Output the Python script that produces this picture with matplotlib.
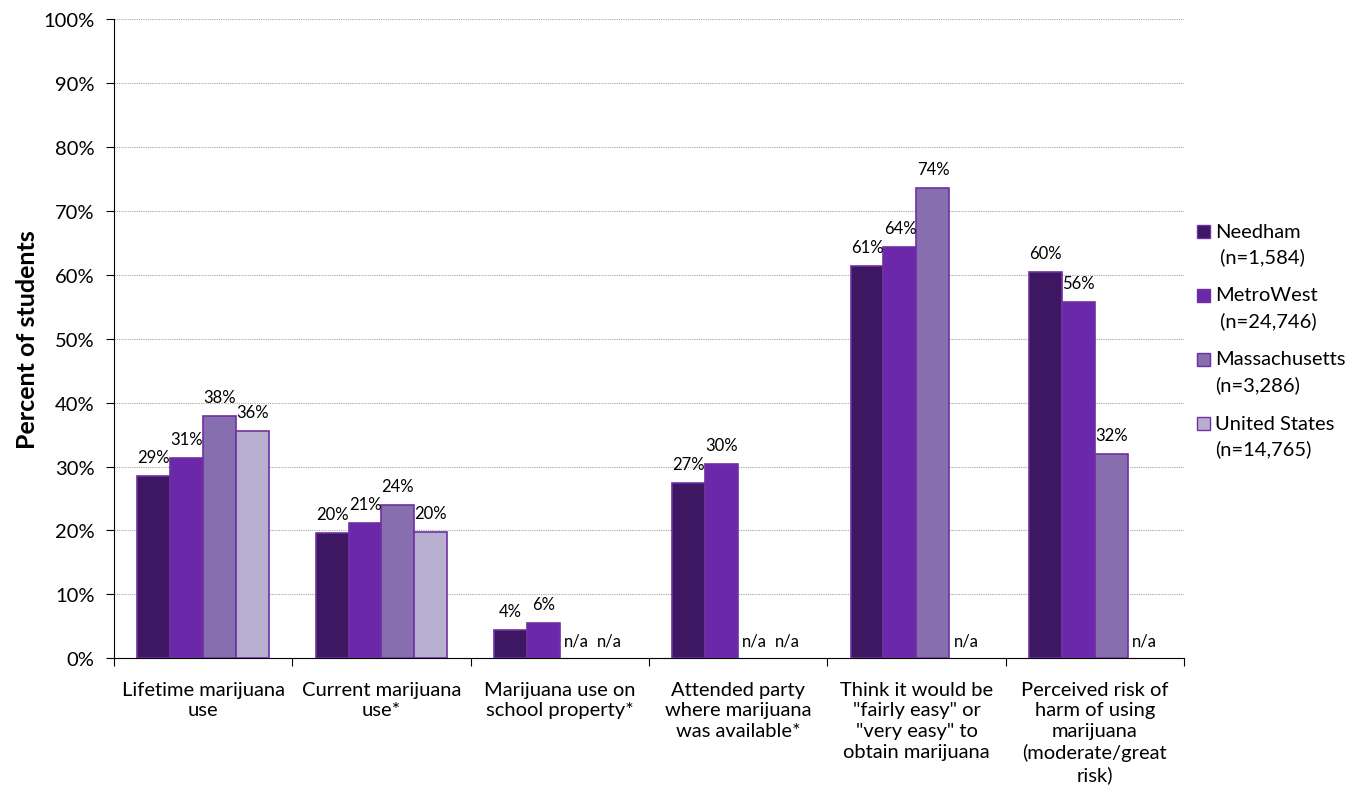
#!/usr/bin/env python3
"""
マリファナ関連指標のグループ棒グラフ
"""

import numpy as np
import matplotlib.pyplot as plt
from matplotlib.patches import Rectangle

plt.rcParams['font.family'] = ['Lato', 'DejaVu Sans']

# データ
categories = [
    'Lifetime marijuana\nuse',
    'Current marijuana\nuse*',
    'Marijuana use on\nschool property*',
    'Attended party\nwhere marijuana\nwas available*',
    'Think it would be\n"fairly easy" or\n"very easy" to\nobtain marijuana',
    'Perceived risk of\nharm of using\nmarijuana\n(moderate/great\nrisk)',
]
series_names = ['Needham', 'MetroWest', 'Massachusetts', 'United States']
series_n = [' (n=1,584)', ' (n=24,746)', '(n=3,286)', '(n=14,765)']
needham = [28.5, 19.6, 4.4, 27.4, 61.4, 60.4]
metrowest = [31.3, 21.2, 5.5, 30.4, 64.3, 55.7]
massachusetts = [37.9, 24.0, None, None, 73.6, 31.9]
united_states = [35.5, 19.7, None, None, None, None]
labels_needham = ['29%', '20%', '4%', '27%', '61%', '60%']
labels_metrowest = ['31%', '21%', '6%', '30%', '64%', '56%']
labels_massachusetts = ['38%', '24%', 'n/a', 'n/a', '74%', '32%']
labels_united_states = ['36%', '20%', 'n/a', 'n/a', 'n/a', 'n/a']

colors = ['#3D1762', '#6B28AA', '#876EAF', '#B8AED0']
edge = '#7030A0'

fig = plt.figure(figsize=(13.62, 8.04), dpi=100)
ax = fig.add_axes([0.0837, 0.180, 0.7856, 0.795])

x = np.arange(len(categories))
width = 0.185
all_vals = [needham, metrowest, massachusetts, united_states]
all_labels = [labels_needham, labels_metrowest, labels_massachusetts, labels_united_states]

for k, (vals, labs) in enumerate(zip(all_vals, all_labels)):
    pos = x + (k - 1.5) * width
    # 値のあるバーだけ描く
    bx = [p for p, v in zip(pos, vals) if v is not None]
    bh = [v for v in vals if v is not None]
    ax.bar(bx, bh, width, color=colors[k], edgecolor=edge, linewidth=1.2, zorder=3)
    for p, v, t in zip(pos, vals, labs):
        if v is None:
            ax.text(p, 2.8, t, ha='center', va='center', fontsize=12, zorder=4)
        else:
            ax.text(p, v + 3.0, t, ha='center', va='center', fontsize=12, zorder=4)

ax.set_xlim(-0.5, len(categories) - 0.5)
ax.set_ylim(0, 100)
ax.set_yticks(np.arange(0, 101, 10))
ax.set_yticklabels([f'{v}%' for v in range(0, 101, 10)], fontsize=14.5)
ax.yaxis.grid(True, linestyle=(0, (1, 1)), color='#A6A6A6', linewidth=0.8, zorder=0)
ax.set_ylabel('Percent of students', fontsize=18, fontweight='bold', labelpad=3)

# カテゴリ境界に目盛り
ax.set_xticks(np.arange(-0.5, len(categories), 1.0))
ax.set_xticklabels([])
ax.set_xticks(x, minor=True)
ax.set_xticklabels(categories, minor=True, fontsize=14.5, linespacing=1.27)
ax.tick_params(axis='x', which='minor', length=0, pad=16)
ax.tick_params(axis='x', which='major', length=6, direction='out')
ax.tick_params(axis='y', length=6, direction='out', pad=8)

for s in ['top', 'right']:
    ax.spines[s].set_visible(False)

# 凡例（手動配置）
y0 = 1 - 232 / 804
step = 64 / 804
line = 25 / 804
for k in range(4):
    yk = y0 - k * step
    fig.patches.append(Rectangle((1197 / 1362, yk - 6.5 / 804), 13 / 1362, 13 / 804,
                                 transform=fig.transFigure, facecolor=colors[k],
                                 edgecolor=edge, linewidth=1.0))
    fig.text(1215 / 1362, yk, series_names[k], ha='left', va='center', fontsize=14.5)
    fig.text(1215 / 1362, yk - line, series_n[k], ha='left', va='center', fontsize=14.5)

plt.savefig('out.png', dpi=100)
